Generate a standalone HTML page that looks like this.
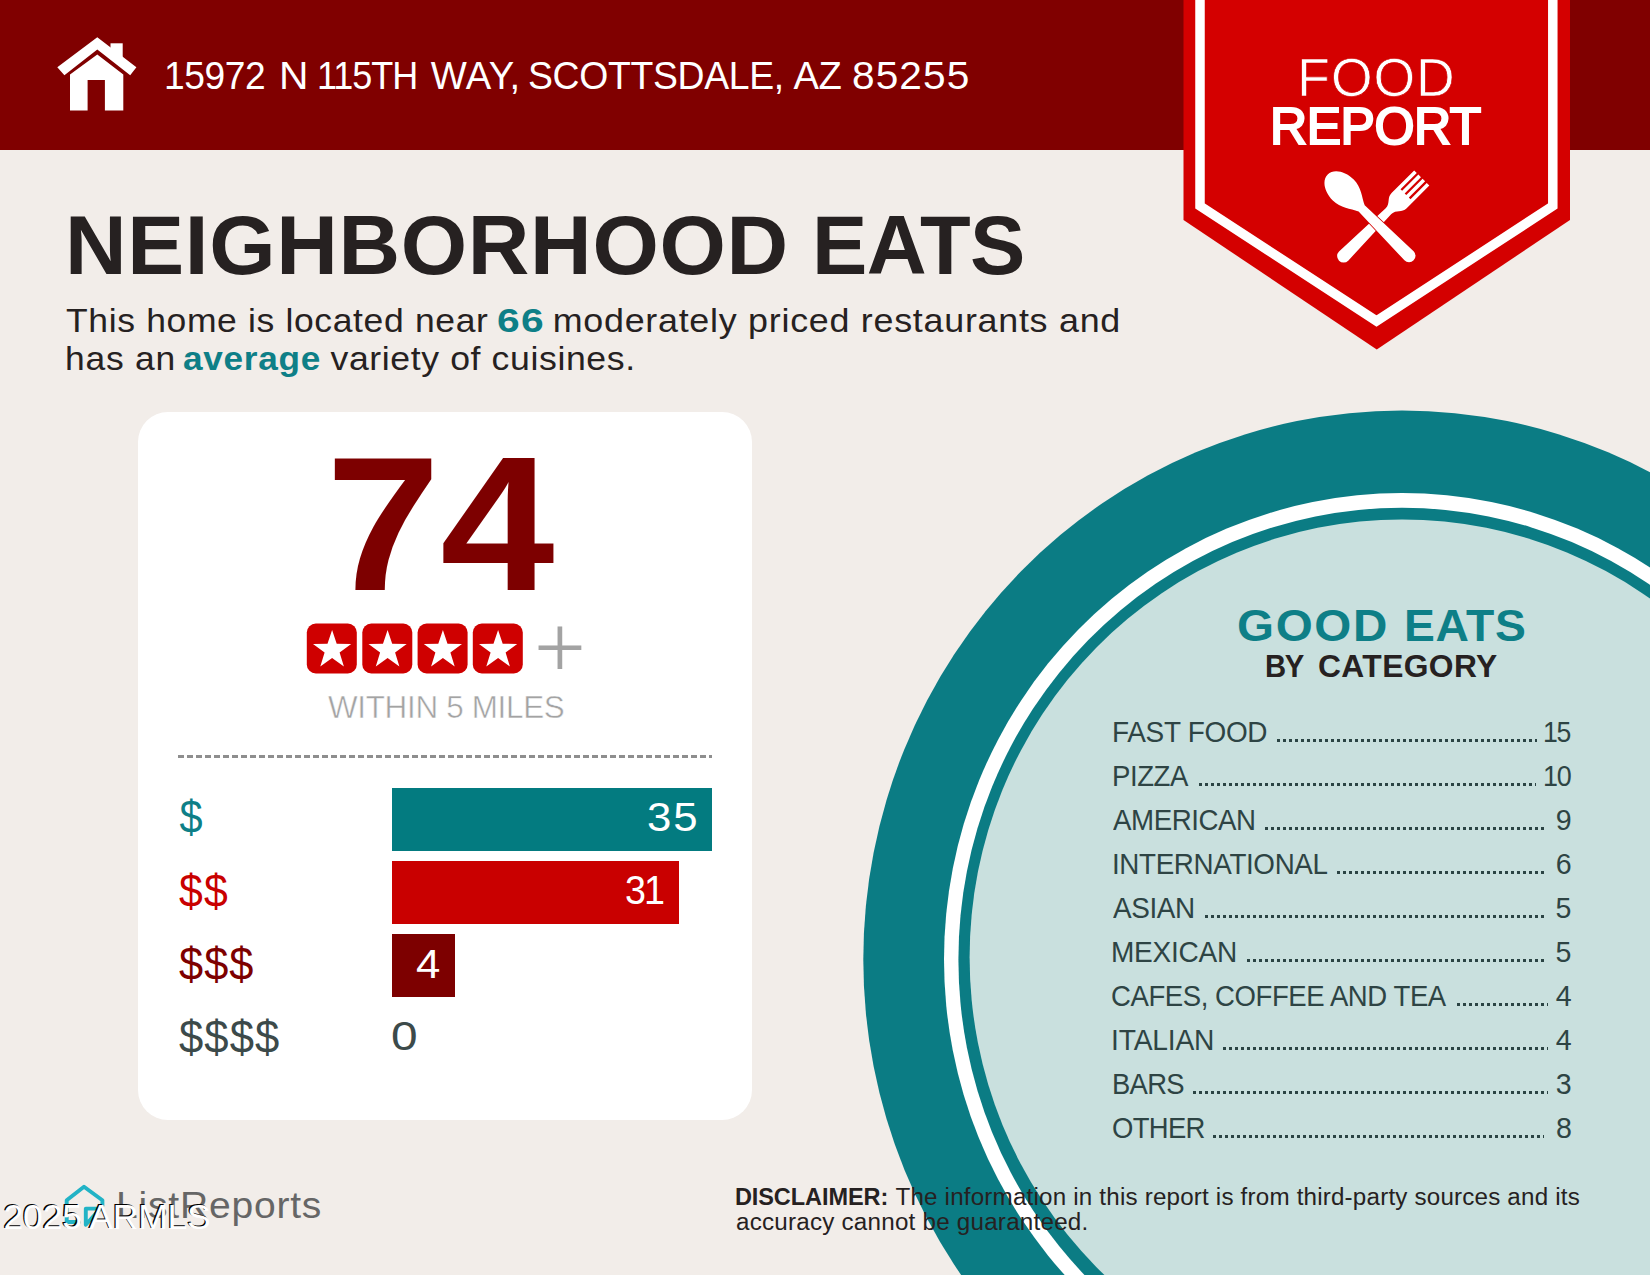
<!DOCTYPE html>
<html lang="en">
<head>
<meta charset="utf-8">
<title>Food Report - 15972 N 115th Way, Scottsdale, AZ 85255</title>
<style>
html,body{margin:0;padding:0;}
body{width:1650px;height:1275px;position:relative;overflow:hidden;background:#f2ede9;font-family:"Liberation Sans",Arial,sans-serif;color:#262121;}
.abs{position:absolute;}
.t{position:absolute;white-space:nowrap;line-height:1;margin:0;padding:0;font-weight:400;}
.b{font-weight:700;}
#header{left:0;top:0;width:1650px;height:150px;background:#800000;}
#gfx{left:0;top:0;width:1650px;height:1275px;}
#card{left:138px;top:412px;width:614px;height:708px;border-radius:30px;background:#ffffff;}
.bar{position:absolute;left:392px;height:63px;}
#bar1{top:788px;width:320px;background:#037b80;}
#bar2{top:861px;width:287px;background:#c90000;}
#bar3{top:934px;width:63px;background:#7d0000;}
#dash{left:178px;top:755px;width:534px;height:3px;background:repeating-linear-gradient(90deg,#8e8e8e 0 6px,transparent 6px 9px);}
.teal{color:#0e7f87;}
/* text */
.ad{left:165px;top:57px;font-size:38.2px;color:#fff;}
#a2{left:280px}#a3{left:318px}#a4{left:430px}#a5{left:528px}#a6{left:793px}#a7{left:852px}
#food{left:1298px;top:52px;font-size:52px;color:#fff;-webkit-text-stroke:0.7px #d40000;}
#report{left:1269px;top:101px;font-size:52px;color:#fff;-webkit-text-stroke:2.2px #fff;}
.ttl{left:65px;top:203px;font-size:84px;font-weight:700;color:#262121;}
#t2{left:812px}
.para{margin:0;padding:0;}
.sub{font-size:33.5px;top:304px;left:66px;white-space:pre;}
#s1b{left:498px;}#s1c{left:545px;}
#s2a,#s2b,#s2c{top:342px;}#s2b{left:183px;}#s2c{left:320px;}
#score{left:325px;top:433px;font-size:185px;font-weight:700;color:#7d0000;}
#plus{left:536px;top:600px;font-size:88px;color:#a3a3a3;font-family:"Liberation Serif",serif;}
#within{left:326px;top:691px;font-size:31.4px;color:#a3a3a3;-webkit-text-stroke:0.5px #fff;}
.dl{font-size:42px;left:178px;}
#d1{top:796px;color:#0e7f87;}
#d2{top:869px;color:#c90000;}
#d3{top:942px;color:#7d0000;}
#d4{top:1015px;color:#3c4a4a;}
.bv{font-size:40px;color:#fff;}
#v1{left:648px;top:797px;}
#v2{left:625px;top:870px;}
#v3{left:416px;top:943px;}
#v4{left:392px;top:1016px;color:#3c4a4a;}
.ge{left:1236px;top:603px;font-size:45.2px;font-weight:700;color:#0e7f87;}
#ge2{left:1405px}
.bc{left:1264px;top:651px;font-size:31px;font-weight:700;color:#262121;}
#bc2{left:1318px}
.li{font-size:28.5px;color:#2e4444;left:1112px;}
.ln{font-size:28.5px;color:#2e4444;right:79px;}
.dots{position:absolute;height:3px;background:repeating-linear-gradient(90deg,#2b4444 0 3px,transparent 3px 6px);}
.dsc{font-size:23.5px;color:#262121;left:735px;top:1186px;white-space:pre;}
#dc1b{left:888px;}
#disc2{top:1210px;}
#lr{left:117px;top:1186px;font-size:36px;color:#666;}
#wm{left:4px;top:1200px;font-size:34px;color:#fff;text-shadow:-1.3px -1.3px 0 #000;}
/*CAL-START*/
#food{left:1297.3px;top:50.6px;font-size:53.50px;letter-spacing:0.92px;right:auto;}
#report{left:1270.0px;top:101.2px;font-size:51.50px;letter-spacing:-0.50px;right:auto;}
#score{left:326.3px;top:428.0px;font-size:191.11px;letter-spacing:-0.02px;right:auto;transform-origin:0 50%;transform:scale(1.0749,1.0000);}
#within{left:327.5px;top:690.6px;font-size:32.25px;letter-spacing:-0.32px;right:auto;transform-origin:0 50%;transform:scale(0.9737,1.0000);}
#d1{left:179.5px;top:797.2px;font-size:41.50px;letter-spacing:0.00px;right:auto;transform-origin:0 50%;transform:scale(1.0000,1.1000);}
#d2{left:179.3px;top:870.9px;font-size:41.50px;letter-spacing:1.19px;right:auto;transform-origin:0 50%;transform:scale(1.0307,1.1000);}
#d3{left:179.3px;top:943.9px;font-size:41.50px;letter-spacing:1.02px;right:auto;transform-origin:0 50%;transform:scale(1.0450,1.1000);}
#d4{left:179.2px;top:1016.9px;font-size:41.50px;letter-spacing:0.98px;right:auto;transform-origin:0 50%;transform:scale(1.0521,1.1000);}
#v1{left:646.6px;top:797.4px;font-size:40.50px;letter-spacing:1.84px;right:auto;transform-origin:0 50%;transform:scale(1.0814,1.0000);}
#v2{left:624.9px;top:870.2px;font-size:40.50px;letter-spacing:-2.16px;right:auto;transform-origin:0 50%;transform:scale(0.9304,1.0000);}
#v3{left:415.9px;top:943.8px;font-size:40.50px;letter-spacing:0.00px;right:auto;transform-origin:0 50%;transform:scale(1.0791,1.0000);}
#v4{left:391.4px;top:1016.2px;font-size:40.50px;letter-spacing:0.00px;right:auto;transform-origin:0 50%;transform:scale(1.1805,1.0000);}
#disc2{left:728.5px;top:1210.5px;font-size:23.50px;letter-spacing:0.22px;right:auto;transform-origin:0 50%;transform:scale(1.0297,1.0000);}
#lr{left:115.9px;top:1188.3px;font-size:36.60px;letter-spacing:0.75px;right:auto;transform-origin:0 50%;transform:scale(1.0666,1.0000);}
#wm{left:3.6px;top:1200.3px;font-size:35.48px;letter-spacing:-0.21px;right:auto;}
#l1{left:1111.5px;top:718.0px;font-size:28.60px;letter-spacing:-0.30px;right:auto;transform-origin:0 50%;transform:scale(0.9774,1.0000);}
#n1{left:1543.3px;top:718.0px;font-size:28.60px;letter-spacing:-1.32px;right:auto;transform-origin:0 50%;transform:scale(0.9296,1.0000);}
#l2{left:1111.8px;top:762.0px;font-size:28.60px;letter-spacing:-0.49px;right:auto;transform-origin:0 50%;transform:scale(0.9652,1.0000);}
#n2{left:1542.6px;top:762.0px;font-size:28.60px;letter-spacing:-1.19px;right:auto;transform-origin:0 50%;transform:scale(0.9426,1.0000);}
#l3{left:1112.6px;top:806.0px;font-size:28.60px;letter-spacing:-0.46px;right:auto;transform-origin:0 50%;transform:scale(0.9682,1.0000);}
#n3{left:1555.8px;top:806.0px;font-size:28.60px;letter-spacing:0.00px;right:auto;}
#l4{left:1111.6px;top:850.0px;font-size:28.60px;letter-spacing:-0.37px;right:auto;transform-origin:0 50%;transform:scale(0.9719,1.0000);}
#n4{left:1555.8px;top:850.0px;font-size:28.60px;letter-spacing:0.00px;right:auto;}
#l5{left:1112.6px;top:894.0px;font-size:28.60px;letter-spacing:-0.37px;right:auto;transform-origin:0 50%;transform:scale(0.9752,1.0000);}
#n5{left:1555.6px;top:894.0px;font-size:28.60px;letter-spacing:0.00px;right:auto;}
#l6{left:1111.4px;top:938.0px;font-size:28.60px;letter-spacing:-0.26px;right:auto;transform-origin:0 50%;transform:scale(0.9809,1.0000);}
#n6{left:1555.6px;top:938.0px;font-size:28.60px;letter-spacing:0.00px;right:auto;}
#l7{left:1111.3px;top:982.0px;font-size:28.60px;letter-spacing:-0.45px;right:auto;transform-origin:0 50%;transform:scale(0.9633,1.0000);}
#n7{left:1555.8px;top:982.0px;font-size:28.60px;letter-spacing:0.00px;right:auto;}
#l8{left:1110.9px;top:1026.0px;font-size:28.60px;letter-spacing:-0.17px;right:auto;transform-origin:0 50%;transform:scale(0.9863,1.0000);}
#n8{left:1555.8px;top:1026.0px;font-size:28.60px;letter-spacing:0.00px;right:auto;}
#l9{left:1111.9px;top:1070.0px;font-size:28.60px;letter-spacing:-0.73px;right:auto;transform-origin:0 50%;transform:scale(0.9594,1.0000);}
#n9{left:1555.7px;top:1070.0px;font-size:28.60px;letter-spacing:0.00px;right:auto;}
#l10{left:1112.2px;top:1114.0px;font-size:28.60px;letter-spacing:-0.70px;right:auto;transform-origin:0 50%;transform:scale(0.9602,1.0000);}
#n10{left:1556.0px;top:1114.0px;font-size:28.60px;letter-spacing:0.00px;right:auto;}
#plus{left:533.9px;top:602.4px;font-size:91.82px;letter-spacing:0.00px;right:auto;}
#s1a{left:65.8px;top:304.0px;font-size:33.50px;letter-spacing:0.60px;right:auto;transform-origin:0 50%;transform:scale(1.0600,1.0000);}
#s1b{left:497.0px;top:304.0px;font-size:33.50px;letter-spacing:1.17px;right:auto;transform-origin:0 50%;transform:scale(1.2163,1.0000);}
#s1c{left:541.6px;top:304.0px;font-size:33.50px;letter-spacing:0.69px;right:auto;transform-origin:0 50%;transform:scale(1.0700,1.0000);}
#s2a{left:64.7px;top:342.0px;font-size:33.50px;letter-spacing:0.70px;right:auto;transform-origin:0 50%;transform:scale(1.0581,1.0000);}
#s2b{left:182.8px;top:342.0px;font-size:33.50px;letter-spacing:0.68px;right:auto;transform-origin:0 50%;transform:scale(1.0501,1.0000);}
#s2c{left:319.8px;top:342.0px;font-size:33.50px;letter-spacing:0.57px;right:auto;transform-origin:0 50%;transform:scale(1.0635,1.0000);}
#dc1a{left:734.9px;top:1186.0px;font-size:23.50px;letter-spacing:-0.07px;right:auto;}
#dc1b{left:888.5px;top:1186.0px;font-size:23.50px;letter-spacing:0.19px;right:auto;transform-origin:0 50%;transform:scale(1.0284,1.0000);}
#a1{left:164.3px;top:57.0px;font-size:38.20px;letter-spacing:-0.43px;right:auto;transform-origin:0 50%;transform:scale(0.9734,1.0000);}
#a2{left:278.9px;top:57.0px;font-size:38.20px;letter-spacing:0.00px;right:auto;transform-origin:0 50%;transform:scale(1.0688,1.0000);}
#a3{left:317.1px;top:57.0px;font-size:38.20px;letter-spacing:-1.08px;right:auto;transform-origin:0 50%;transform:scale(0.9427,1.0000);}
#a4{left:430.7px;top:57.0px;font-size:38.20px;letter-spacing:0.37px;right:auto;}
#a5{left:527.8px;top:57.0px;font-size:38.20px;letter-spacing:-0.35px;right:auto;transform-origin:0 50%;transform:scale(0.9790,1.0000);}
#a6{left:793.4px;top:57.0px;font-size:38.20px;letter-spacing:-0.27px;right:auto;}
#a7{left:852.4px;top:57.0px;font-size:38.20px;letter-spacing:1.03px;right:auto;transform-origin:0 50%;transform:scale(1.0637,1.0000);}
#t1{left:65.0px;top:203.0px;font-size:84.00px;letter-spacing:0.65px;right:auto;transform-origin:0 50%;transform:scale(1.0158,1.0000);}
#t2{left:811.5px;top:203.0px;font-size:84.00px;letter-spacing:-0.57px;right:auto;transform-origin:0 50%;transform:scale(0.9873,1.0000);}
#ge1{left:1237.0px;top:603.0px;font-size:45.20px;letter-spacing:1.56px;right:auto;transform-origin:0 50%;transform:scale(1.0531,1.0000);}
#ge2{left:1404.4px;top:603.0px;font-size:45.20px;letter-spacing:0.57px;right:auto;transform-origin:0 50%;transform:scale(1.0245,1.0000);}
#bc1{left:1264.6px;top:651.0px;font-size:31.00px;letter-spacing:-1.34px;right:auto;transform-origin:0 50%;transform:scale(0.9437,1.0000);}
#bc2{left:1318.2px;top:651.0px;font-size:31.00px;letter-spacing:0.39px;right:auto;transform-origin:0 50%;transform:scale(1.0248,1.0000);}
/*CAL-END*/
</style>
</head>
<body>
<div id="header" class="abs"></div>
<div id="card" class="abs"></div>
<svg id="gfx" class="abs" width="1650" height="1275" viewBox="0 0 1650 1275">
  <!-- plate -->
  <g id="plate">
    <ellipse cx="1402" cy="959.5" rx="538.7" ry="549" fill="#0b7c84"/>
    <ellipse cx="1402" cy="959.5" rx="458" ry="466.4" fill="#ffffff"/>
    <ellipse cx="1402" cy="959.5" rx="443.6" ry="451.8" fill="#0b7c84"/>
    <ellipse cx="1402" cy="957.3" rx="432.4" ry="437.9" fill="#c9e0de"/>
  </g>
  <!-- badge -->
  <g id="badge">
    <polygon points="1183.5,0 1570,0 1570,220 1376.75,349.5 1183.5,220" fill="#d40000"/>
    <polyline points="1200,-10 1200,206 1376.5,321 1552.8,206 1552.8,-10" fill="none" stroke="#ffffff" stroke-width="9.5" stroke-linejoin="miter"/>
  </g>
  <!-- house icon -->
  <g id="house" fill="#ffffff">
    <polygon points="97.3,37.3 136.4,67.2 130.2,75.2 97.3,49.6 64.4,75.2 57.3,67.2"/>
    <rect x="110.5" y="43.3" width="12.2" height="16"/>
    <path d="M97.3,54.5 L123.3,74.6 L123.3,110.5 L104.9,110.5 L104.9,80 L87.6,80 L87.6,110.5 L70,110.5 L70,74.6 Z"/>
  </g>
  <!-- spoon and fork -->
  <g id="cutlery" fill="#ffffff">
    <g transform="translate(1376.5 223.2) rotate(45)">
      <path d="M-10.7,-64 L-7.05,-64 L-7.05,-41 L-4.75,-41 L-4.75,-64 L-1.15,-64 L-1.15,-41 L1.15,-41 L1.15,-64 L4.75,-64 L4.75,-41 L7.05,-41 L7.05,-64 L10.7,-64 L10.7,-32 C10.7,-25 4,-24 4,-17 L6.5,46.5 A6.5,6.5 0 0 1 -6.5,46.5 L-4,-17 C-4,-24 -10.7,-25 -10.7,-32 Z"/>
    </g>
    <g transform="translate(1376.5 223.2) rotate(-45)">
      <path d="M0,-69 C8.5,-69 14.8,-59 14.8,-47 C14.8,-36 8,-29 4.3,-21 L6.5,46 A6.5,6.5 0 0 1 -6.5,46 L-4.3,-21 C-8,-29 -14.8,-36 -14.8,-47 C-14.8,-59 -8.5,-69 0,-69 Z" stroke="#d40000" stroke-width="1.6" paint-order="stroke"/>
    </g>
  </g>
  <!-- rating stars -->
  <g id="stars"><rect x="306.8" y="623.6" width="50" height="49.8" rx="9" ry="9" fill="#cf0000"/><polygon points="332.1,630.0 336.7,643.7 351.2,643.9 339.6,652.5 343.9,666.4 332.1,658.0 320.3,666.4 324.6,652.5 313.0,643.9 327.5,643.7" fill="#ffffff"/><rect x="362.3" y="623.6" width="50" height="49.8" rx="9" ry="9" fill="#cf0000"/><polygon points="387.6,630.0 392.2,643.7 406.7,643.9 395.1,652.5 399.4,666.4 387.6,658.0 375.8,666.4 380.1,652.5 368.5,643.9 383.0,643.7" fill="#ffffff"/><rect x="417.6" y="623.6" width="50" height="49.8" rx="9" ry="9" fill="#cf0000"/><polygon points="442.9,630.0 447.5,643.7 462.0,643.9 450.4,652.5 454.7,666.4 442.9,658.0 431.1,666.4 435.4,652.5 423.8,643.9 438.3,643.7" fill="#ffffff"/><rect x="472.8" y="623.6" width="50" height="49.8" rx="9" ry="9" fill="#cf0000"/><polygon points="498.1,630.0 502.7,643.7 517.2,643.9 505.6,652.5 509.9,666.4 498.1,658.0 486.3,666.4 490.6,652.5 479.0,643.9 493.5,643.7" fill="#ffffff"/></g>
  <!-- logo icon -->
  <g id="logo" fill="none" stroke="#22b3c6" stroke-width="3.9" stroke-linejoin="round" stroke-linecap="round">
    <path d="M79,1222 L66.7,1222 L66.7,1200.2 L84,1186.7 L102.4,1200.2 L102.4,1206"/>
    <path d="M85.8,1208.6 L100.4,1208.6 L85.8,1224.8 Z"/>
  </g>
</svg>
<div id="dash" class="abs"></div>
<div id="bar1" class="bar"></div>
<div id="bar2" class="bar"></div>
<div id="bar3" class="bar"></div>

<div class="para"><span id="a1" class="t ad">15972</span> <span id="a2" class="t ad">N</span> <span id="a3" class="t ad">115TH</span> <span id="a4" class="t ad">WAY,</span> <span id="a5" class="t ad">SCOTTSDALE,</span> <span id="a6" class="t ad">AZ</span> <span id="a7" class="t ad">85255</span></div>
<div id="food" class="t">FOOD</div>
<div id="report" class="t">REPORT</div>
<h1 class="para"><span id="t1" class="t ttl">NEIGHBORHOOD</span> <span id="t2" class="t ttl">EATS</span></h1>
<p class="para"><span id="s1a" class="t sub">This home is located near </span><b id="s1b" class="t sub b teal">66</b><span id="s1c" class="t sub"> moderately priced restaurants and</span>
<span id="s2a" class="t sub">has an </span><b id="s2b" class="t sub b teal">average</b><span id="s2c" class="t sub"> variety of cuisines.</span></p>
<div id="score" class="t">74</div>
<div id="plus" class="t">+</div>
<div id="within" class="t">WITHIN 5 MILES</div>
<div id="d1" class="t dl">$</div>
<div id="d2" class="t dl">$$</div>
<div id="d3" class="t dl">$$$</div>
<div id="d4" class="t dl">$$$$</div>
<div id="v1" class="t bv">35</div>
<div id="v2" class="t bv">31</div>
<div id="v3" class="t bv">4</div>
<div id="v4" class="t bv">0</div>
<h2 class="para"><span id="ge1" class="t ge">GOOD</span> <span id="ge2" class="t ge">EATS</span>
<span id="bc1" class="t bc">BY</span> <span id="bc2" class="t bc">CATEGORY</span></h2>
<!-- category list -->
<div id="l1" class="t li">FAST FOOD</div><div class="dots" style="left:1277.0px;top:739.0px;width:260.3px"></div><div id="n1" class="t ln">15</div>
<div id="l2" class="t li">PIZZA</div><div class="dots" style="left:1198.8px;top:783.0px;width:337.1px"></div><div id="n2" class="t ln">10</div>
<div id="l3" class="t li">AMERICAN</div><div class="dots" style="left:1264.6px;top:827.0px;width:279.6px"></div><div id="n3" class="t ln">9</div>
<div id="l4" class="t li">INTERNATIONAL</div><div class="dots" style="left:1337.0px;top:871.0px;width:207.2px"></div><div id="n4" class="t ln">6</div>
<div id="l5" class="t li">ASIAN</div><div class="dots" style="left:1205.0px;top:915.0px;width:339.2px"></div><div id="n5" class="t ln">5</div>
<div id="l6" class="t li">MEXICAN</div><div class="dots" style="left:1246.8px;top:959.0px;width:297.4px"></div><div id="n6" class="t ln">5</div>
<div id="l7" class="t li">CAFES, COFFEE AND TEA</div><div class="dots" style="left:1456.5px;top:1003.0px;width:91.8px"></div><div id="n7" class="t ln">4</div>
<div id="l8" class="t li">ITALIAN</div><div class="dots" style="left:1223.0px;top:1047.0px;width:325.3px"></div><div id="n8" class="t ln">4</div>
<div id="l9" class="t li">BARS</div><div class="dots" style="left:1193.0px;top:1091.0px;width:355.3px"></div><div id="n9" class="t ln">3</div>
<div id="l10" class="t li">OTHER</div><div class="dots" style="left:1212.9px;top:1135.0px;width:331.3px"></div><div id="n10" class="t ln">8</div>
<p class="para"><b id="dc1a" class="t dsc b">DISCLAIMER:</b><span id="dc1b" class="t dsc"> The information in this report is from third-party sources and its</span>
<span id="disc2" class="t dsc"> accuracy cannot be guaranteed.</span></p>
<div id="lr" class="t">ListReports</div>
<div id="wm" class="t">2025 ARMLS</div>
</body>
</html>
